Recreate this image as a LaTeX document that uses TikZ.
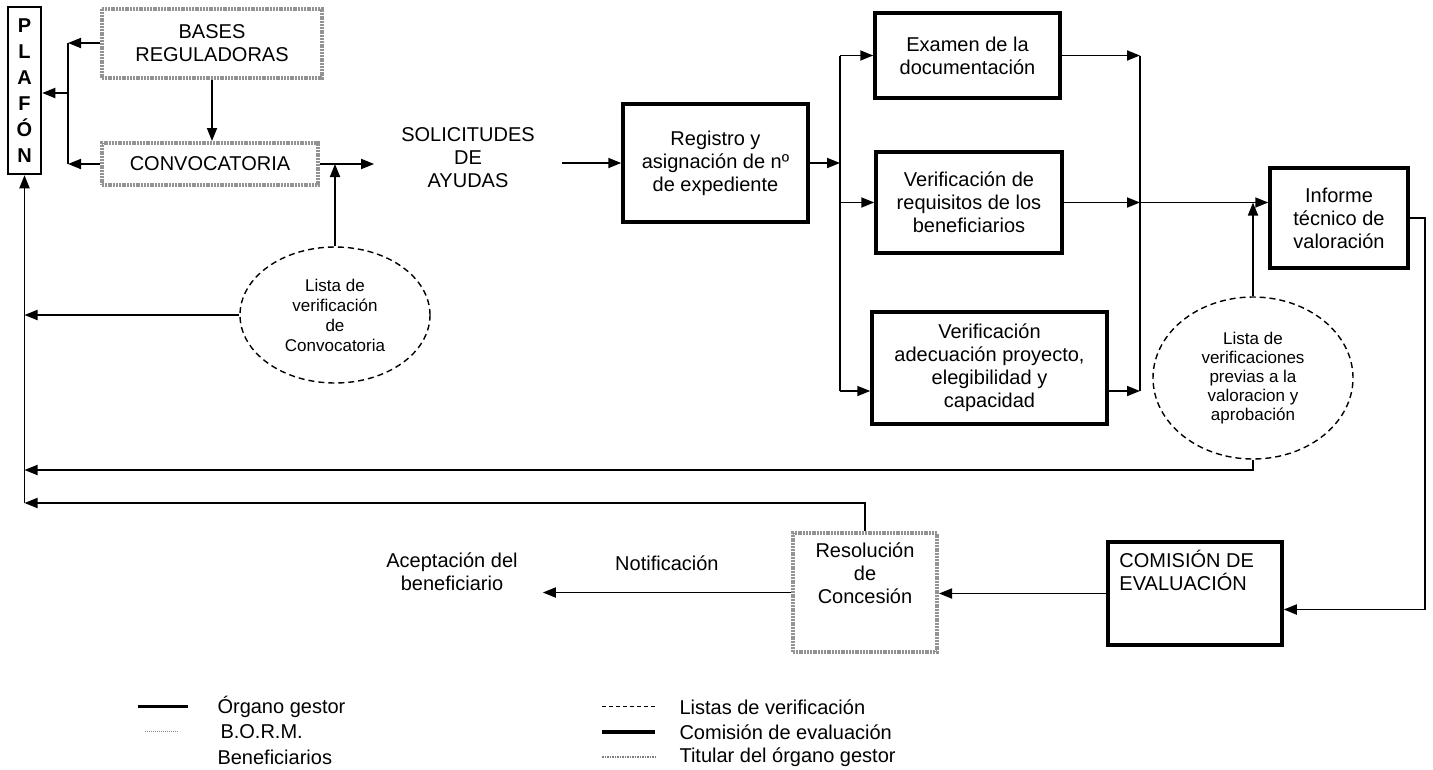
\documentclass[tikz,border=0pt]{standalone}
\usepackage{fontspec}
\setmainfont{Liberation Sans}
\usetikzlibrary{arrows.meta,shapes.geometric}

\begin{document}
\begin{tikzpicture}[x=1pt,y=-1pt,
	every node/.style={font=\fontsize{20}{23}\selectfont,align=center},
	gestor/.style={draw,line width=3.5pt,inner sep=4pt},
	titular/.style={draw=gray!85,line width=4pt,dash pattern=on 2pt off 0.8pt},
	lista/.style={ellipse,draw,line width=1.4pt,dash pattern=on 6pt off 4pt,font=\fontsize{17}{20}\selectfont},
	flecha/.style={line width=1.8pt,-{Triangle[length=13pt,width=10pt]}},
	linea/.style={line width=1.8pt}]
	\useasboundingbox (0,0) rectangle (1433,769);

	\node[draw,line width=2.5pt,minimum width=33pt,minimum height=167pt,inner sep=0pt,font=\bfseries\fontsize{20}{26}\selectfont] (plafon) at (24.5,90.5) {P\\L\\A\\F\\Ó\\N};
	\node[titular,minimum width=220pt,minimum height=69pt] (bases) at (212,43) {BASES\\REGULADORAS};
	\node[titular,minimum width=216pt,minimum height=42pt] (conv) at (210,164) {CONVOCATORIA};
	\node[inner xsep=27pt] (solic) at (468,158) {SOLICITUDES\\DE\\AYUDAS};
	\node[gestor,minimum width=185pt,minimum height=118pt] (reg) at (715.5,163) {Registro y\\asignación de nº\\de expediente};
	\node[gestor,minimum width=185pt,minimum height=85pt] (exam) at (967.5,55.5) {Examen de la\\documentación};
	\node[gestor,minimum width=186pt,minimum height=101pt] (verreq) at (969,202.5) {Verificación de\\requisitos de los\\beneficiarios};
	\node[gestor,minimum width=235pt,minimum height=112pt] (veradec) at (989.5,368) {Verificación\\adecuación proyecto,\\elegibilidad y\\capacidad};
	\node[gestor,minimum width=138pt,minimum height=100pt] (inf) at (1339,218) {Informe\\técnico de\\valoración};
	\node[gestor,minimum width=174pt,minimum height=103pt,label={[anchor=north west,align=left,inner xsep=13pt,inner ysep=10pt]north west:COMISIÓN DE\\EVALUACIÓN}] (com) at (1195,593.5) {};
	\node[titular,minimum width=144pt,minimum height=119pt,label={[anchor=north,inner ysep=12pt]north:Resolución\\de\\Concesión}] (resol) at (865,592.5) {};
	\node[inner xsep=25pt] (acept) at (452,572) {Aceptación del\\beneficiario};
	\node[lista,minimum width=190pt,minimum height=136pt] (ell1) at (335,315) {Lista de\\verificación\\de\\Convocatoria};
	\node[lista,minimum width=200pt,minimum height=162pt,font=\fontsize{17}{19}\selectfont] (ell2) at (1253,378) {Lista de\\verificaciones\\previas a la\\valoracion y\\aprobación};

	\coordinate (jt) at (68,43);
	\coordinate (jb) at (68,164);
	\coordinate (jm) at (68,93);
	\coordinate (bl) at (840,163);
	\coordinate (br) at (1140,202.5);
	\coordinate (l1) at (24.5,470);
	\coordinate (l2) at (24.5,503);
	\coordinate (rc) at (1425,218);

	\draw[flecha] (bases.south) -- (bases.south |- conv.north);
	\draw[flecha] (bases.west) -- (jt);
	\draw[flecha] (conv.west) -- (jb);
	\draw[linea] (jt) -- (jb);
	\draw[flecha] (jm) -- (jm -| plafon.east);
	\draw[flecha] (conv.east) -- (conv.east -| solic.west);
	\draw[flecha] (ell1.north) -- (ell1.north |- conv.east);
	\draw[flecha] (ell1.west) -- (ell1.west -| plafon.south);
	\draw[flecha] (solic.east |- reg.west) -- (reg.west);
	\draw[flecha] (reg.east) -- (reg.east -| bl);
	\draw[linea] (exam.west -| bl) -- ([yshift=-23pt]veradec.west -| bl);
	\draw[flecha] (exam.west -| bl) -- (exam.west);
	\draw[flecha] (verreq.west -| bl) -- (verreq.west);
	\draw[flecha] ([yshift=-23pt]veradec.west -| bl) -- ([yshift=-23pt]veradec.west);
	\draw[linea] (exam.east -| br) -- ([yshift=-23pt]veradec.east -| br);
	\draw[flecha] (exam.east) -- (exam.east -| br);
	\draw[flecha] (verreq.east) -- (verreq.east -| br);
	\draw[flecha] ([yshift=-23pt]veradec.east) -- ([yshift=-23pt]veradec.east -| br);
	\draw[flecha] (verreq.east -| br) -- (verreq.east -| inf.west);
	\draw[flecha] (ell2.north) -- (ell2.north |- verreq.east);
	\draw[flecha] (ell2.south) |- (l1);
	\draw[flecha] (resol.north) |- (l2);
	\draw[flecha] (l2) -- (plafon.south);
	\draw[flecha] (inf.east) -- (rc) |- ([yshift=-16pt]com.east);
	\draw[flecha] (com.west) -- (com.west -| resol.east);
	\draw[flecha] (resol.west) -- (resol.west -| acept.east) node[midway,above=18pt] {Notificación};

	\draw[line width=3pt] (138,706) -- (188,706);
	\node[anchor=west] (lg1) at (214,707) {Órgano gestor};
	\draw[gray,densely dotted,line width=1pt] (145,731) -- (178,731);
	\node[anchor=west] (lg2) at (217,732) {B.O.R.M.};
	\node[anchor=west] (lg3) at (214,757) {Beneficiarios};
	\draw[dash pattern=on 4pt off 3pt,line width=1pt] (602,706) -- (657,706);
	\node[anchor=west] (lg4) at (676,707) {Listas de verificación};
	\draw[line width=4pt] (602,732) -- (655,732);
	\node[anchor=west] (lg5) at (676,732) {Comisión de evaluación};
	\draw[gray,line width=1.5pt,densely dotted] (602,757) -- (655,757);
	\node[anchor=west] (lg6) at (676,757) {Titular del órgano gestor};
\end{tikzpicture}
\end{document}
